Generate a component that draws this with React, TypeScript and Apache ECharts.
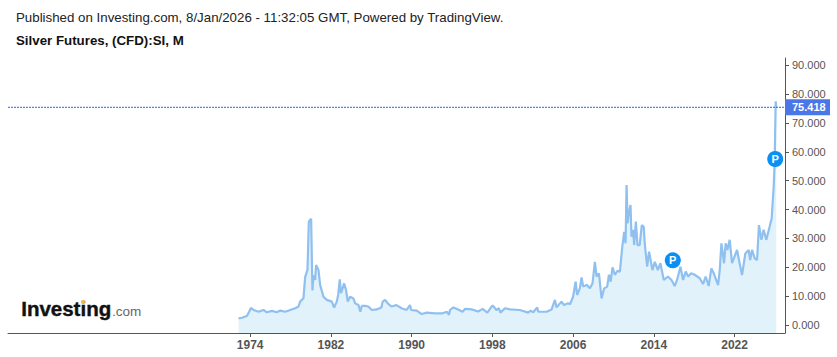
import React, { useEffect, useRef } from "react";
import * as echarts from "echarts";

const FONT = '"Liberation Sans", Arial, sans-serif';
const publishedText = "Published on Investing.com, 8/Jan/2026 - 11:32:05 GMT, Powered by TradingView.";
const instrumentText = "Silver Futures, (CFD):SI, M";
const lastPrice = 75.418;
const yearTicks = [1974, 1982, 1990, 1998, 2006, 2014, 2022];
const priceTicks = [0, 10, 20, 30, 40, 50, 60, 70, 80, 90];
const pMarkers = [[2015.88, 22.4], [2026.03, 57.5]];
const xMin = 1950;
const xMax = 2027;

const years = [
  1972.85, 1973.18, 1973.67, 1973.9, 1974.07, 1974.33, 1974.83, 1975.32, 1975.65, 1976.15, 1976.64, 1976.97, 1977.47, 1977.96, 1978.46, 1978.79, 1978.95, 1979.28, 1979.45, 1979.68, 1979.81, 1980.04, 1980.1, 1980.17, 1980.27, 1980.44, 1980.53, 1980.77, 1980.93, 1981.26, 1981.59, 1982.09, 1982.32, 1982.58, 1982.72, 1982.88, 1983.0, 1983.31, 1983.5, 1983.67, 1983.9, 1984.23, 1984.4, 1984.73, 1984.92, 1985.06, 1985.4, 1985.7, 1986.05, 1986.54, 1987.0, 1987.13, 1987.37, 1987.63, 1988.0, 1988.5, 1989.0, 1989.5, 1989.84, 1989.95, 1990.5, 1991.0, 1991.5, 1992.3, 1993.0, 1993.5, 1993.7, 1993.8, 1994.13, 1994.6, 1995.05, 1995.3, 1995.95, 1996.6, 1997.03, 1997.5, 1998.02, 1998.4, 1998.65, 1998.8, 1999.25, 1999.74, 2000.73, 2001.55, 2001.8, 2002.05, 2002.45, 2002.55, 2003.37, 2003.87, 2004.2, 2004.36, 2004.85, 2005.1, 2005.5, 2005.7, 2006.0, 2006.25, 2006.4, 2006.67, 2006.84, 2007.0, 2007.34, 2007.67, 2007.93, 2008.16, 2008.33, 2008.56, 2008.82, 2009.08, 2009.38, 2009.55, 2009.72, 2009.91, 2010.14, 2010.4, 2010.64, 2010.87, 2011.06, 2011.2, 2011.3, 2011.4, 2011.52, 2011.69, 2011.79, 2011.95, 2012.05, 2012.22, 2012.38, 2012.6, 2012.81, 2013.0, 2013.1, 2013.34, 2013.53, 2013.86, 2014.1, 2014.4, 2014.65, 2014.99, 2015.4, 2015.75, 2016.07, 2016.3, 2016.64, 2016.9, 2017.16, 2017.4, 2017.7, 2018.05, 2018.55, 2018.88, 2019.14, 2019.44, 2019.7, 2019.94, 2020.37, 2020.53, 2020.7, 2020.96, 2021.12, 2021.29, 2021.52, 2021.75, 2022.0, 2022.25, 2022.44, 2022.74, 2023.07, 2023.4, 2023.55, 2023.73, 2024.0, 2024.23, 2024.42, 2024.66, 2024.88, 2025.15, 2025.48, 2025.68, 2025.88, 2025.98, 2026.08, 2026.13,
];
const prices = [
  2.3, 2.5, 3.1, 4.6, 5.9, 5.2, 4.6, 5.2, 4.4, 4.9, 4.4, 5.0, 4.6, 5.2, 5.8, 6.4, 8.1, 9.3, 16.7, 19.1, 35.8, 36.8, 25, 12, 17.3, 15.6, 20.8, 19, 13.9, 9.8, 8.7, 8.1, 6.0, 8.1, 10.4, 15.8, 11, 14.4, 12.1, 8.1, 9.8, 9.2, 7.5, 6.9, 4.6, 6.6, 6.6, 6.4, 5.2, 5.4, 6.1, 8.1, 8.7, 7.5, 6.4, 6.9, 5.8, 5.2, 6.9, 5.2, 5.0, 3.8, 4.3, 4.0, 4.0, 4.6, 3.5, 5.2, 6.1, 5.4, 4.6, 5.6, 5.4, 4.7, 5.6, 4.3, 6.8, 5.2, 5.8, 4.3, 5.8, 5.4, 5.2, 4.3, 5.0, 4.4, 6.1, 4.6, 4.6, 5.4, 8.7, 6.1, 8.1, 6.9, 7.5, 7.2, 9.8, 15, 10.4, 12.7, 16.5, 13.3, 13.9, 12.7, 14.5, 21.9, 16.8, 17.9, 9.2, 12.7, 13.3, 17.4, 15, 20, 17.4, 18.8, 18.5, 27, 32.3, 28.3, 48.5, 35.2, 38.6, 41.6, 30.6, 33, 27.7, 35.8, 27.7, 27.7, 34.6, 34, 28.3, 20.2, 25.4, 19, 21.9, 19, 21.4, 15.6, 16.8, 15.6, 13.5, 15.6, 20.2, 15.6, 18.5, 16.8, 17.9, 17.4, 16.2, 14.2, 16.8, 13.5, 19.6, 17.9, 13.8, 18.9, 28.3, 21.4, 28.3, 26, 29.5, 21.4, 23.7, 26, 22.5, 17.3, 24.8, 26, 22.5, 26, 23.1, 22.5, 34.6, 29.5, 33, 29.5, 34.1, 37, 48, 57, 77.5, 75.418,
];

export default function App() {
  const ref = useRef<HTMLDivElement>(null);
  useEffect(() => {
    const chart = echarts.init(ref.current!, undefined, { renderer: "svg" });
    const axisColor = "#555555";
    chart.setOption({
      animation: false,
      backgroundColor: "#ffffff",
      textStyle: { fontFamily: FONT },
      title: [
        { text: publishedText, left: 16, top: 11, padding: 0, textStyle: { fontFamily: FONT, fontSize: 13.3, fontWeight: "normal", color: "#222222" } },
        { text: instrumentText, left: 16, top: 34, padding: 0, textStyle: { fontFamily: FONT, fontSize: 13.3, fontWeight: "bold", color: "#111111" } },
      ],
      grid: { left: 8, right: 52, top: 58, bottom: 24 },
      xAxis: {
        type: "value",
        min: xMin,
        max: xMax,
        splitLine: { show: false },
        axisLine: { onZero: false, lineStyle: { color: axisColor, width: 1 } },
        axisTick: { show: true, length: 4, customValues: yearTicks, lineStyle: { color: axisColor } },
        axisLabel: {
          customValues: yearTicks,
          formatter: (v: number) => String(v),
          color: "#555555",
          fontFamily: FONT,
          fontSize: 12,
          fontWeight: "bold",
          margin: 6,
        },
      },
      yAxis: {
        type: "value",
        position: "right",
        min: -2.77,
        max: 92.5,
        splitLine: { show: false },
        axisLine: { show: true, onZero: false, lineStyle: { color: axisColor, width: 1 } },
        axisTick: { show: true, length: 4, customValues: priceTicks, lineStyle: { color: axisColor } },
        axisLabel: {
          customValues: priceTicks,
          formatter: (v: number) => v.toFixed(3),
          color: "#555555",
          fontFamily: FONT,
          fontSize: 11,
          margin: 7,
        },
      },
      series: [
        {
          type: "line",
          data: years.map((y, i) => [y, prices[i]]),
          showSymbol: false,
          symbol: "none",
          silent: true,
          color: "#8fc0f0",
          lineStyle: { color: "#8fc0f0", width: 2.2 },
          areaStyle: { color: "#e2f2fb", opacity: 1, origin: "start" },
          markPoint: {
            silent: true,
            symbol: "circle",
            symbolSize: 16,
            animation: false,
            itemStyle: { color: "#0a90f5" },
            label: { show: true, formatter: "P", color: "#ffffff", fontFamily: FONT, fontSize: 11, fontWeight: "bold" },
            data: pMarkers.map((coord) => ({ coord })),
          },
          z: 3,
        },
        {
          type: "line",
          data: [[xMin, lastPrice], [xMax, lastPrice]],
          showSymbol: false,
          symbol: "none",
          silent: true,
          color: "#2a66f2",
          lineStyle: { color: "#2a66f2", width: 1, type: [2, 1] },
          endLabel: {
            show: true,
            distance: 0,
            formatter: () => lastPrice.toFixed(3),
            backgroundColor: "#4a76e8",
            color: "#ffffff",
            fontFamily: FONT,
            fontSize: 11,
            fontWeight: "bold",
            width: 38,
            height: 16,
            lineHeight: 16,
            align: "left",
            verticalAlign: "middle",
            padding: [0, 0, 0, 7],
          },
          z: 4,
        },
      ],
      graphic: [
        { type: "text", left: 21, top: 298, style: { text: "Investing", fontFamily: FONT, fontSize: 20.5, fontWeight: "bold", fill: "#111111", stroke: "#111111", lineWidth: 0.4 } },
        { type: "text", left: 112, top: 304, style: { text: ".com", fontFamily: FONT, fontSize: 13.5, fill: "#666666" } },
        { type: "circle", shape: { cx: 83, cy: 302, r: 2 }, style: { fill: "#f8b44a" } },
      ],
    });
    return () => chart.dispose();
  }, []);
  return <div ref={ref} style={{ position: "absolute", left: 0, top: 0, width: 837, height: 357 }} />;
}
